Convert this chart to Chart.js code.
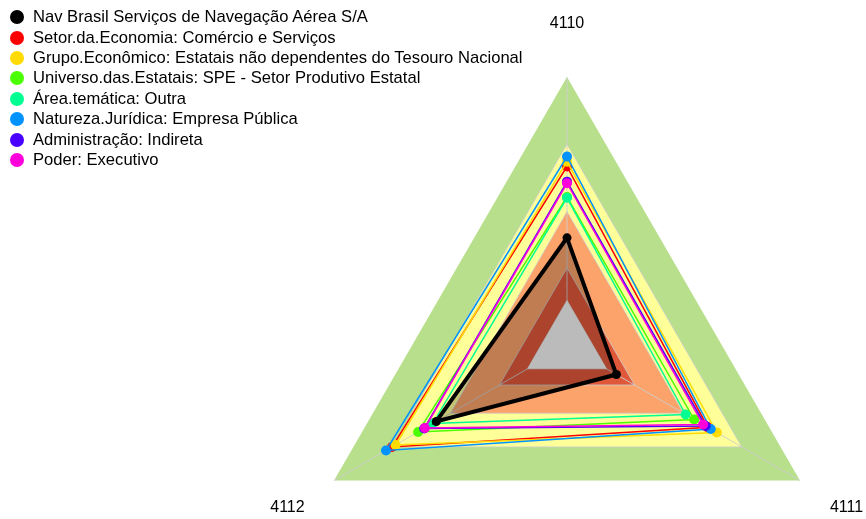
<!DOCTYPE html>
<html>
<head>
<meta charset="utf-8">
<script src="https://cdn.jsdelivr.net/npm/chart.js@4.4.1/dist/chart.umd.min.js"></script>
<style>
  html, body { margin: 0; padding: 0; background: #fff; overflow: hidden; }
  #wrap { position: relative; width: 866px; height: 519px; overflow: hidden; }
  #c { position: absolute; left: 0; top: 0; }
  #legend { position: absolute; left: 10px; top: 7px; font-family: "Liberation Sans", Arial, sans-serif; font-size: 16.6px; color: #000; }
  .row { height: 20.4px; display: flex; align-items: center; white-space: nowrap; }
  .dot { width: 14px; height: 14px; border-radius: 50%; margin-right: 9px; flex: none; }
</style>
</head>
<body>
<div id="wrap">
  <canvas id="c" width="866" height="640"></canvas>
  <div id="legend"></div>
</div>
<script>
// ---- data ----
const axisLabels = ['4110', '4111', '4112'];

const seriesNames = [
  'Nav Brasil Serviços de Navegação Aérea S/A',
  'Setor.da.Economia: Comércio e Serviços',
  'Grupo.Econômico: Estatais não dependentes do Tesouro Nacional',
  'Universo.das.Estatais: SPE - Setor Produtivo Estatal',
  'Área.temática: Outra',
  'Natureza.Jurídica: Empresa Pública',
  'Administração: Indireta',
  'Poder: Executivo'
];
const seriesColors = ['#000000', '#FF0000', '#FFDB00', '#49FF00', '#00FF92', '#0092FF', '#4900FF', '#FF00DB'];

const navBrasil        = [40.2, 21.2, 56.1];
const setorEconomia    = [66.7, 60.5, 75.1];
const grupoEconomico   = [68.5, 64.3, 73.6];
const universoEstatais = [55.4, 54.6, 63.9];
const areaTematica     = [55.1, 50.9, 57.6];
const naturezaJuridica = [70.4, 61.7, 77.7];
const administracao    = [61.1, 59.5, 61.3];
const poder            = [60.5, 58.4, 61.0];

const seriesValues = [navBrasil, setorEconomia, grupoEconomico, universoEstatais,
                      areaTematica, naturezaJuridica, administracao, poder];

const bandLevels = [100, 75, 50, 29, 17];
const bandColors = ['#B8E08C', '#FFFF99', '#FCA36B', '#E0583A', '#F4F4F4'];
const gridTicks  = [0, 17, 29, 50, 75];
const scaleMax   = 100;
const labelLevel = 120;

// ---- legend (HTML text) ----
const legendEl = document.getElementById('legend');
seriesNames.forEach((n, i) => {
  const row = document.createElement('div');
  row.className = 'row';
  const d = document.createElement('span');
  d.className = 'dot';
  d.style.background = seriesColors[i];
  const t = document.createElement('span');
  t.textContent = n;
  row.appendChild(d); row.appendChild(t);
  legendEl.appendChild(row);
});

// ---- plugins ----
function drawBand(chart, k) {
  const s = chart.scales.r, ctx = chart.ctx;
  ctx.save();
  ctx.beginPath();
  for (let i = 0; i < axisLabels.length; i++) {
    const p = s.getPointPositionForValue(i, bandLevels[k]);
    if (i === 0) ctx.moveTo(p.x, p.y); else ctx.lineTo(p.x, p.y);
  }
  ctx.closePath();
  ctx.fillStyle = bandColors[k];
  ctx.fill();
  ctx.restore();
}
const bandsPlugin = {
  id: 'bands',
  beforeDraw(chart) {
    for (let k = 0; k < bandLevels.length - 1; k++) drawBand(chart, k);
  },
  beforeDatasetsDraw(chart) {
    drawBand(chart, bandLevels.length - 1);
  }
};
const axisLabelPlugin = {
  id: 'axisLabels',
  afterDraw(chart) {
    const s = chart.scales.r, ctx = chart.ctx;
    ctx.save();
    ctx.font = '16px "Liberation Sans", Arial, sans-serif';
    ctx.fillStyle = '#000';
    ctx.textAlign = 'center';
    ctx.textBaseline = 'middle';
    axisLabels.forEach((lab, i) => {
      const p = s.getPointPositionForValue(i, labelLevel);
      ctx.fillText(lab, p.x, p.y);
    });
    ctx.restore();
  }
};

// ---- datasets ----
const datasets = seriesValues.map((vals, i) => ({
  label: seriesNames[i],
  data: vals,
  borderColor: seriesColors[i],
  backgroundColor: i === 0 ? 'rgba(0,0,0,0.23)' : seriesColors[i],
  pointBackgroundColor: seriesColors[i],
  pointBorderWidth: 0,
  pointRadius: i === 0 ? 4.5 : 5,
  borderWidth: i === 0 ? 4 : 1.5,
  fill: i === 0 ? 'origin' : false,
  order: i === 0 ? 0 : 8 - i
}));

new Chart(document.getElementById('c'), {
  type: 'radar',
  data: { labels: axisLabels, datasets },
  options: {
    responsive: false,
    animation: false,
    devicePixelRatio: 1,
    layout: { padding: { left: 298, right: 30, top: 77, bottom: 25 } },
    plugins: { legend: { display: false }, tooltip: { enabled: false }, title: { display: false } },
    events: [],
    scales: {
      r: {
        min: 0,
        max: scaleMax,
        afterBuildTicks(scale) { scale.ticks = gridTicks.map(v => ({ value: v })); },
        ticks: { display: false },
        pointLabels: { display: false },
        grid: { color: 'rgba(205,205,205,0.8)', lineWidth: 1 },
        angleLines: { color: 'rgba(205,205,205,0.9)', lineWidth: 1 }
      }
    }
  },
  plugins: [bandsPlugin, axisLabelPlugin]
});
</script>
</body>
</html>
